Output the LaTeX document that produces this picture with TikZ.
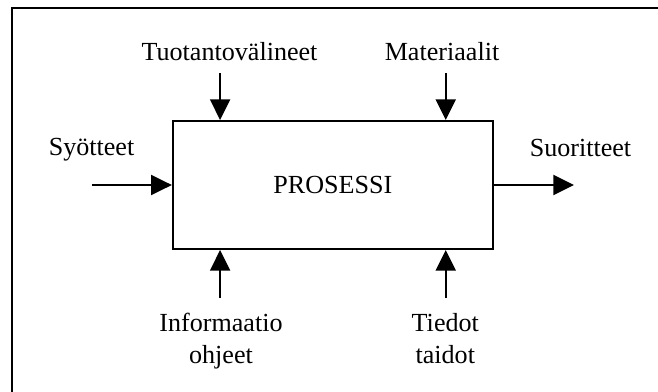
\documentclass[tikz,border=0pt]{standalone}
\usepackage{fontspec}
\setmainfont{Liberation Serif}
\usetikzlibrary{arrows.meta, calc, positioning}
\tikzstyle{proc} = [rectangle, draw=black, line width=0.9pt, minimum width=147.3pt,
minimum height=58.9pt, text centered, inner sep=0pt]
\tikzstyle{lbl} = [inner sep=0pt, align=center, anchor=base]
\tikzstyle{arrow} = [line width=0.9pt, -{Triangle[length=9.5pt, width=9.2pt]}]
\tikzstyle{line} = [line width=0.9pt, -]

\begin{document}
\begin{tikzpicture}[x=0.46pt, y=-0.46pt, font=\fontsize{12}{14.5}\selectfont]
        \clip (0,0) rectangle (658,391);
        \draw [line] (12,400) -- (12,8) -- (670,8);

        \node (P) [proc] at (332.9,185) {PROSESSI};

        \node (tuo) [lbl] at (229.5,60) {Tuotantovälineet};
        \node (mat) [lbl] at (442,60) {Materiaalit};
        \node (syo) [lbl] at (91.5,155.7) {Syötteet};
        \node (suo) [lbl] at (580.5,156) {Suoritteet};
        \node (inf) [lbl] at (221,363) {Informaatio\\ohjeet}; % base = last line
        \node (tie) [lbl] at (445.3,363) {Tiedot\\taidot};

        \coordinate (T1) at ([xshift=22.2pt]P.north west);
        \coordinate (T2) at ([xshift=-22.2pt]P.north east);
        \coordinate (B1) at ([xshift=22.2pt]P.south west);
        \coordinate (B2) at ([xshift=-22.2pt]P.south east);
        \coordinate (T1s) at ([yshift=21.6pt]T1); % free ends of the arrows
        \coordinate (T2s) at ([yshift=21.6pt]T2);
        \coordinate (B1s) at ([yshift=-22pt]B1);
        \coordinate (B2s) at ([yshift=-22pt]B2);
        \coordinate (Ls) at ([xshift=-36.8pt]P.west);
        \coordinate (Re) at ([xshift=36.8pt]P.east);

        \draw [arrow] (T1s) -- (T1);
        \draw [arrow] (T2s) -- (T2);
        \draw [arrow] (B1s) -- (B1);
        \draw [arrow] (B2s) -- (B2);
        \draw [arrow] (Ls) -- (P.west);
        \draw [arrow] (P.east) -- (Re);
    \end{tikzpicture}
\end{document}
